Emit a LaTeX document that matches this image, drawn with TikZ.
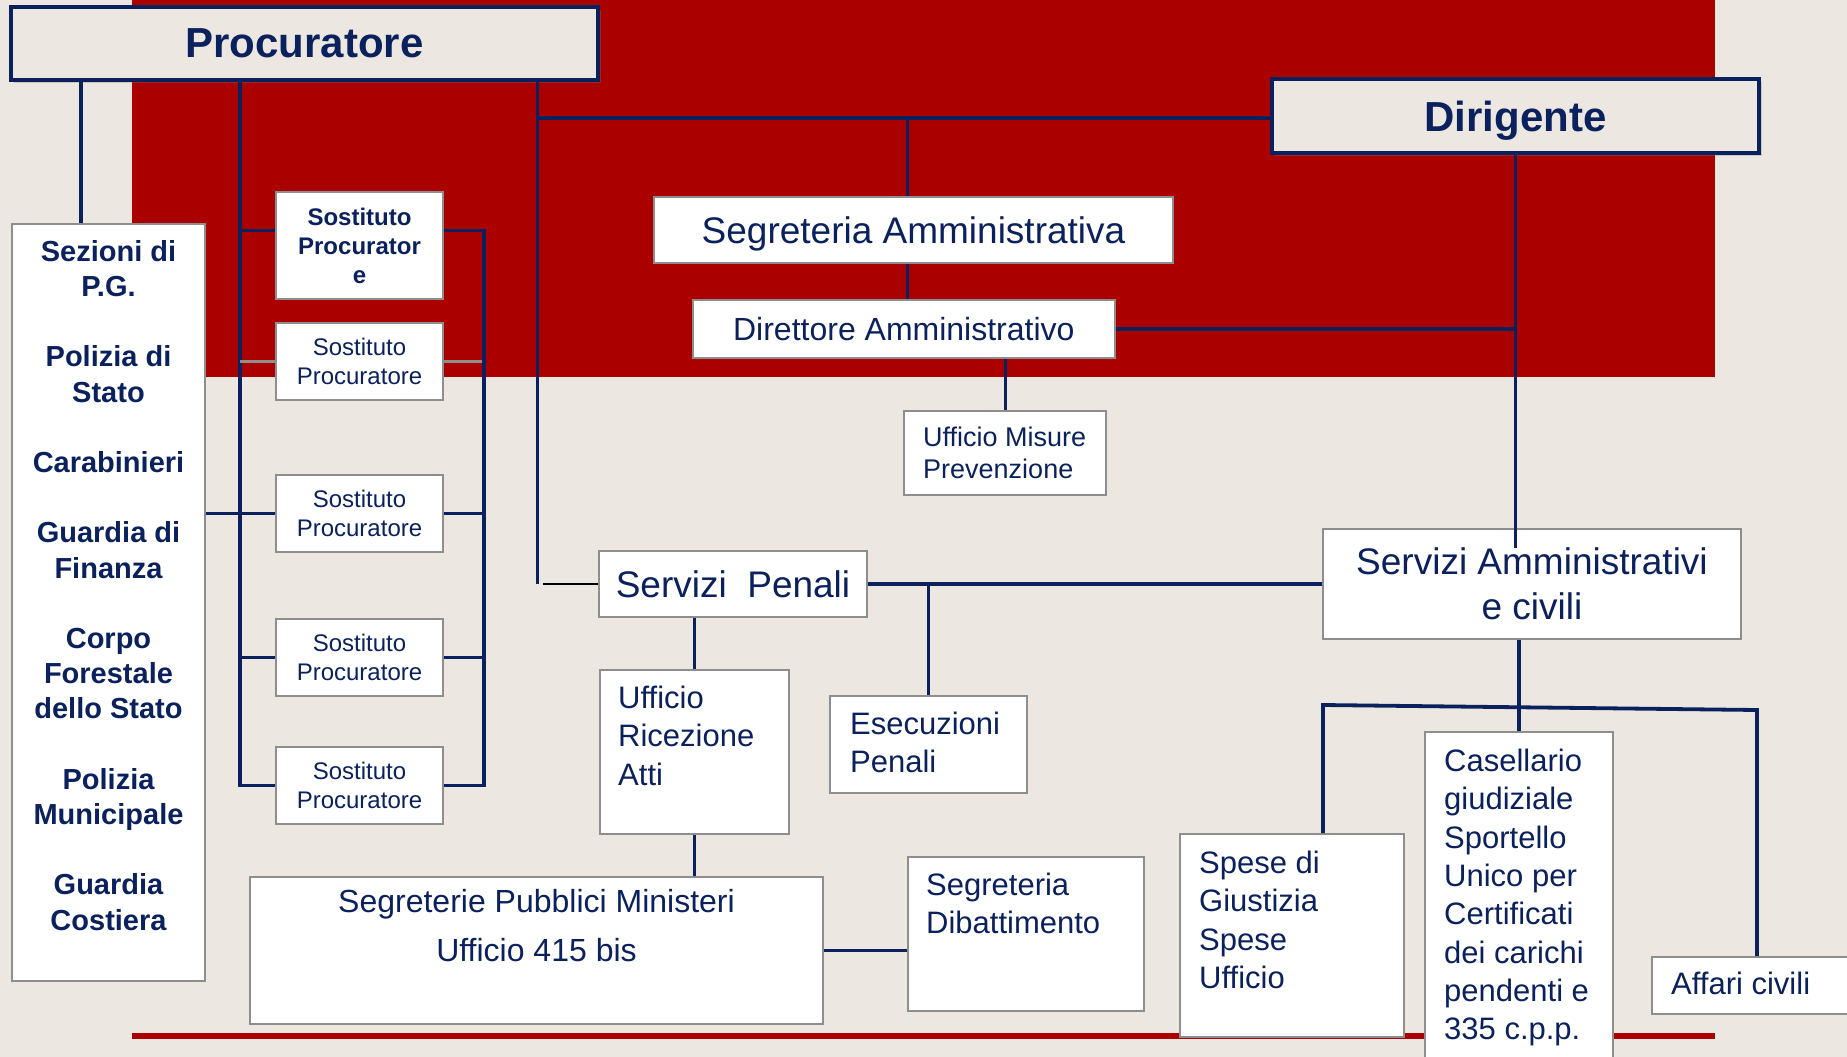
\documentclass[tikz,border=0pt]{standalone}
\usepackage{fontspec}
\setmainfont{Liberation Sans}
\usetikzlibrary{positioning,shadows}

\definecolor{navy}{HTML}{0B215E}
\definecolor{rosso}{HTML}{AA0000}
\definecolor{sfondo}{HTML}{ECE8E1}
\definecolor{bordo}{HTML}{8E8E8E}

\tikzset{
  capo/.style={draw=navy, line width=3.5pt, fill=sfondo, text=navy, inner sep=0pt, text depth=0pt,
    font=\bfseries\fontsize{42}{50}\selectfont,
    drop shadow={opacity=0.3, shadow xshift=3pt, shadow yshift=-3pt}},
  ufficio/.style={draw=bordo, line width=2pt, fill=white, text=navy, inner sep=0pt, align=center},
  testo/.style={text=navy, inner sep=0pt, align=left, font=\fontsize{31}{38.3}\selectfont},
  sost/.style={ufficio, minimum width=167pt, minimum height=77pt, anchor=north west,
    font=\fontsize{24}{29}\selectfont},
  linea/.style={navy, line width=3.8pt},
  filo/.style={navy, line width=3pt},
}

\begin{document}
\begin{tikzpicture}[x=1pt, y=-1pt]
        \useasboundingbox (0,0) rectangle (1847,1057);
        \clip (0,0) rectangle (1847,1057);

        % sfondo
        \fill[sfondo] (0,0) rectangle (1847,1057);
        \fill[rosso] (132,0) rectangle (1715,377);
        \draw[rosso, line width=6pt] (132,1036) -- (1715,1036);

        % vertici
        \node[capo, minimum width=587pt, minimum height=73pt] (proc) at (304.4,43.5) {Procuratore};
        \node[capo, minimum width=487pt, minimum height=74pt] (dir) at (1515.5,116) {Dirigente};

        % polizia giudiziaria
        \node[ufficio, minimum width=193pt, minimum height=757pt, anchor=north west] (sez) at (11,223) {};
        \node[testo, align=center, font=\bfseries\fontsize{29}{35.2}\selectfont,
          below=17pt of sez.north] (seztxt)
          {Sezioni di\\P.G.\\[35.2pt]Polizia di\\Stato\\[35.2pt]Carabinieri\\[35.2pt]Guardia di\\Finanza\\[35.2pt]Corpo\\Forestale\\dello Stato\\[35.2pt]Polizia\\Municipale\\[35.2pt]Guardia\\Costiera};

        % sostituti
        \node[sost, font=\bfseries\fontsize{24}{29}\selectfont, minimum height=107pt] (sp1) at (275,191) {Sostituto\\Procurator\\e};
        \node[sost] (sp2) at (275,322) {Sostituto\\Procuratore};
        \node[sost] (sp3) at (275,474) {Sostituto\\Procuratore};
        \node[sost] (sp4) at (275,618) {Sostituto\\Procuratore};
        \node[sost] (sp5) at (275,746) {Sostituto\\Procuratore};

        % area amministrativa
        \node[ufficio, minimum width=519pt, minimum height=66pt, text depth=0pt, font=\fontsize{37}{44}\selectfont] (sga) at (913.5,230) {Segreteria Amministrativa};
        \node[ufficio, minimum width=422pt, minimum height=58pt, font=\fontsize{32}{38}\selectfont] (dam) at (903.8,329) {Direttore Amministrativo};
        \node[ufficio, minimum width=202pt, minimum height=84pt, anchor=north west] (ump) at (903,410) {};
        \node[testo, font=\fontsize{27}{32}\selectfont, below right=17pt and 20pt of ump.north west] (umptxt) {Ufficio Misure\\Prevenzione};

        % servizi penali
        \node[ufficio, minimum width=268pt, minimum height=66pt, font=\fontsize{37}{44}\selectfont] (spn) at (733,584) {Servizi\ \ Penali};
        \node[ufficio, minimum width=189pt, minimum height=164pt, anchor=north west] (ura) at (599,669) {};
        \node[testo, below right=17pt and 19pt of ura.north west] (uratxt) {Ufficio\\Ricezione\\Atti};
        \node[ufficio, minimum width=197pt, minimum height=97pt, anchor=north west] (ese) at (829,695) {};
        \node[testo, below right=17pt and 21pt of ese.north west] (esetxt) {Esecuzioni\\Penali};
        \node[ufficio, minimum width=573pt, minimum height=147pt, anchor=north west] (spm) at (249,876) {};
        \node[testo, align=center, font=\fontsize{32}{49}\selectfont, below=13pt of spm.north] (spmtxt) {Segreterie Pubblici Ministeri\\Ufficio 415 bis};
        \node[ufficio, minimum width=236pt, minimum height=154pt, anchor=north west] (sdb) at (907,856) {};
        \node[testo, below right=17pt and 19pt of sdb.north west] (sdbtxt) {Segreteria\\Dibattimento};

        % servizi amministrativi
        \node[ufficio, minimum width=418pt, minimum height=110pt, font=\fontsize{37}{45}\selectfont] (sva) at (1532,584) {Servizi Amministrativi\\e civili};
        \node[ufficio, minimum width=224pt, minimum height=203pt, anchor=north west] (spe) at (1179,833) {};
        \node[testo, below right=18pt and 20pt of spe.north west] (spetxt) {Spese di\\Giustizia\\Spese\\Ufficio};
        \node[ufficio, minimum width=188pt, minimum height=340pt, anchor=north west] (cas) at (1424,731) {};
        \node[testo, below right=18pt and 20pt of cas.north west] (castxt) {Casellario\\giudiziale\\Sportello\\Unico per\\Certificati\\dei carichi\\pendenti e\\335 c.p.p.};
        \node[ufficio, minimum width=220pt, minimum height=57pt, anchor=north west] (aff) at (1651,956) {};
        \node[testo, below right=16pt and 20pt of aff.north west] (afftxt) {Affari civili};

        % collegamenti
        \coordinate (xpg) at (81,0);
        \coordinate (xsl) at (240,0);
        \coordinate (xsr) at (484,0);
        \coordinate (xsp) at (537,0);
        \coordinate (xpen) at (543,0);
        \coordinate (xsga) at (907,118);
        \coordinate (barL) at (1323,705);
        \coordinate (barR) at (1757,710);
        \coordinate (sp1w) at ([yshift=15pt]sp1.west);
        \coordinate (sp1e) at ([yshift=15pt]sp1.east);
        \coordinate (dirsv) at (dir.south |- sva.north);

        \draw[linea] (proc.south -| xpg) -- (sez.north -| xpg);
        \draw[linea] (proc.south -| xsl) -- (sp5.west -| xsl) -- (sp5.west);
        \draw[linea] (sp1w -| xsl) -- (sp1w);
        \draw[bordo, line width=3.5pt] (sp2.west -| xsl) -- (sp2.west) (sp2.east) -- (sp2.east -| xsr);
        \draw[linea] (sez.east |- sp3.west) -- (sp3.west);
        \draw[linea] (sp4.west -| xsl) -- (sp4.west);
        \draw[linea] (sp1e) -- (sp1e -| xsr) -- (sp5.east -| xsr) -- (sp5.east);
        \draw[linea] (sp3.east) -- (sp3.east -| xsr);
        \draw[linea] (sp4.east) -- (sp4.east -| xsr);

        \draw[filo] (proc.south -| xsp) -- (spn.west -| xsp);
        \draw[black, line width=2.5pt] (spn.west -| xpen) -- (spn.west);
        \draw[linea] (xsp |- xsga) -- (dir.west |- xsga);
        \draw[filo] (xsga) -- (sga.north -| xsga);
        \draw[filo] (sga.south -| xsga) -- (dam.north -| xsga);
        \draw[linea] (dam.east) -- (dam.east -| dir.south);
        \draw[filo] (dir.south) -- ([yshift=-20pt]dirsv);
        \draw[filo] (dam.south -| ump.north) -- (ump.north);

        \draw[linea] (ura.north |- spn.south) -- (ura.north);
        \draw[linea] (ura.south) -- (ura.south |- spm.north);
        \draw[linea] (spn.east) -- (sva.west |- spn.east);
        \draw[linea] (ese.north |- spn.east) -- (ese.north);
        \draw[linea] (spm.east) -- (spm.east -| sdb.west);
        \draw[linea] (sva.south -| cas.north) -- (cas.north);
        \draw[linea] (spe.north -| barL) -- (barL) -- (barR) -- (barR |- aff.north);

\end{tikzpicture}
\end{document}
